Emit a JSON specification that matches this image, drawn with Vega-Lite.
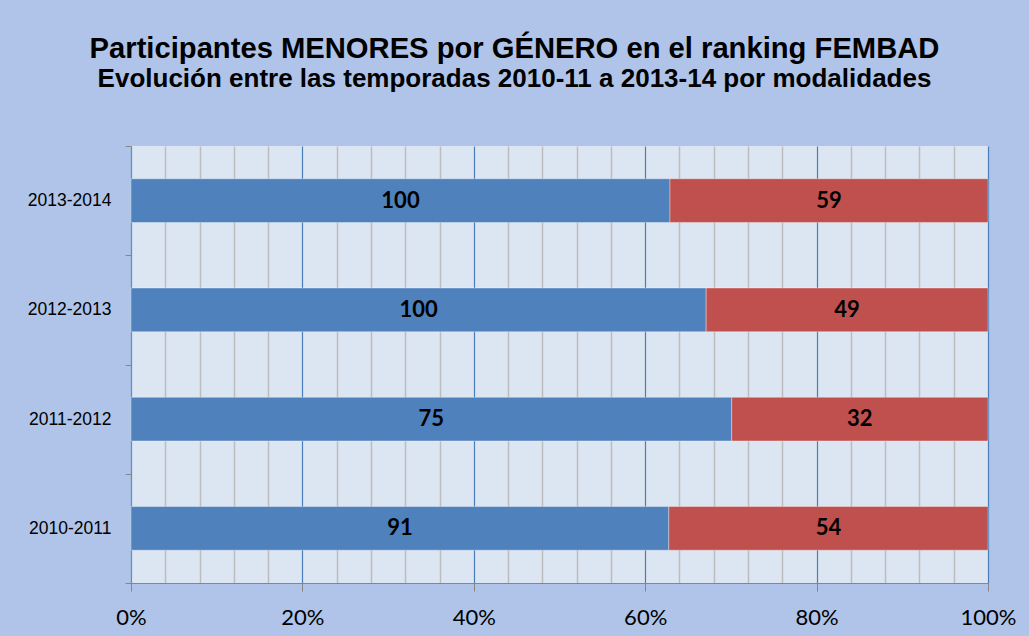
{
  "$schema": "https://vega.github.io/schema/vega-lite/v6.json",
  "width": 857,
  "height": 437,
  "autosize": {"type": "none"},
  "padding": {"left": 131, "top": 146, "right": 41, "bottom": 53},
  "background": "#AFC4E8",
  "title": {
    "text": "Participantes MENORES por GÉNERO en el ranking FEMBAD",
    "subtitle": "Evolución entre las temporadas 2010-11 a 2013-14 por modalidades",
    "anchor": "middle",
    "dx": -45,
    "font": "Liberation Sans",
    "fontSize": 29.2,
    "fontWeight": "bold",
    "color": "#000000",
    "subtitleFont": "Liberation Sans",
    "subtitleFontSize": 26,
    "subtitleFontWeight": "bold",
    "subtitleColor": "#000000",
    "subtitlePadding": 2,
    "offset": 45
  },
  "config": {
    "view": {"fill": "#DCE6F2", "stroke": null}
  },
  "data": {
    "values": [
      {"season": "2013-2014", "gender": "Hombres", "n": 100},
      {"season": "2013-2014", "gender": "Mujeres", "n": 59},
      {"season": "2012-2013", "gender": "Hombres", "n": 100},
      {"season": "2012-2013", "gender": "Mujeres", "n": 49},
      {"season": "2011-2012", "gender": "Hombres", "n": 75},
      {"season": "2011-2012", "gender": "Mujeres", "n": 32},
      {"season": "2010-2011", "gender": "Hombres", "n": 91},
      {"season": "2010-2011", "gender": "Mujeres", "n": 54}
    ]
  },
  "transform": [
    {"stack": "n", "groupby": ["season"], "offset": "normalize", "sort": [{"field": "gender", "order": "ascending"}], "as": ["x0", "x1"]},
    {"calculate": "(datum.x0 + datum.x1) / 2", "as": "xm"}
  ],
  "encoding": {
    "y": {
      "field": "season",
      "type": "nominal",
      "sort": ["2013-2014", "2012-2013", "2011-2012", "2010-2011"],
      "scale": {"paddingInner": 0, "paddingOuter": 0},
      "axis": {
        "title": null,
        "tickBand": "extent",
        "domainColor": "#868686",
        "tickColor": "#868686",
        "tickSize": 6,
        "labelFont": "Liberation Sans",
        "labelFontSize": 17.5,
        "labelColor": "#000000",
        "labelPadding": 14,
        "grid": false
      }
    }
  },
  "layer": [
    {
      "mark": {"type": "bar", "height": {"band": 0.4}, "stroke": "#ffffff", "strokeOpacity": 0.35, "strokeWidth": 1},
      "encoding": {
        "x": {
          "field": "x0",
          "type": "quantitative",
          "scale": {"domain": [0, 1], "nice": false},
          "axis": {
            "title": null,
            "values": [0, 0.04, 0.08, 0.12, 0.16, 0.2, 0.24, 0.28, 0.32, 0.36, 0.4, 0.44, 0.48, 0.52, 0.56, 0.6, 0.64, 0.68, 0.72, 0.76, 0.8, 0.84, 0.88, 0.92, 0.96, 1],
            "tickCount": 40,
            "labelExpr": "abs(round(datum.value*25)) % 5 == 0 ? format(datum.value, '.0%') : ''",
            "labelOverlap": false,
            "labelFlush": false,
            "labelFont": "Lato",
            "labelFontSize": 22,
            "labelColor": "#000000",
            "labelPadding": 16,
            "domainColor": "#868686",
            "tickColor": "#868686",
            "tickSize": 8,
            "tickOpacity": {"condition": {"test": "abs(round(datum.value*25)) % 5 == 0", "value": 1}, "value": 0},
            "grid": true,
            "gridColor": {"condition": {"test": "abs(round(datum.value*25)) % 5 == 0", "value": "#4A7EBB"}, "value": "#BCBCBC"},
            "gridWidth": {"condition": {"test": "abs(round(datum.value*25)) % 5 == 0", "value": 1.2}, "value": 1.5},
            "gridOpacity": 1
          }
        },
        "x2": {"field": "x1"},
        "color": {
          "field": "gender",
          "type": "nominal",
          "scale": {"domain": ["Hombres", "Mujeres"], "range": ["#4F81BD", "#C0504D"]},
          "legend": null
        }
      }
    },
    {
      "mark": {"type": "text", "font": "Lato", "fontSize": 22, "fontWeight": "bold", "color": "#000000", "baseline": "middle", "align": "center"},
      "encoding": {
        "x": {"field": "xm", "type": "quantitative"},
        "text": {"field": "n", "type": "quantitative"}
      }
    }
  ]
}
